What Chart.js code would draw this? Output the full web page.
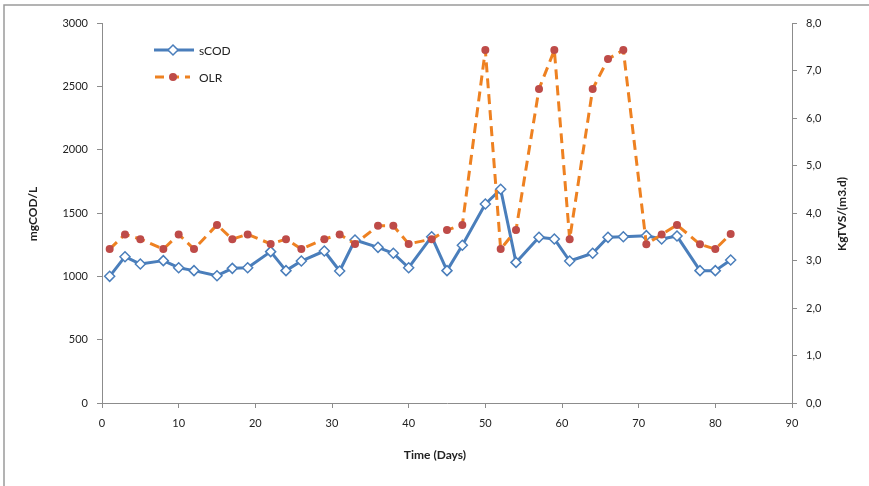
<!DOCTYPE html>
<html>
<head>
<meta charset="utf-8">
<script src="https://cdn.jsdelivr.net/npm/chart.js@4.4.0/dist/chart.umd.min.js"></script>
<style>
  html, body { margin: 0; padding: 0; background: #fff; }
  #wrap { width: 869px; height: 486px; }
</style>
</head>
<body>
<div id="wrap"><canvas id="codChart" width="869" height="486"></canvas></div>
<script>
// days of sampling
let days = [1, 3, 5, 8, 10, 12, 15, 17, 19, 22, 24, 26, 29, 31, 33, 36, 38, 40, 43, 45, 47, 50, 52, 54, 57, 59, 61, 64, 66, 68, 71, 73, 75, 78, 80, 82];
// sCOD, mgCOD/L (left axis)
let scod = [1000, 1155, 1097, 1124, 1068, 1045, 1005, 1063, 1068, 1195, 1045, 1121, 1200, 1042, 1287, 1229, 1182, 1068, 1313, 1045, 1245, 1571, 1687, 1110, 1308, 1295, 1121, 1182, 1308, 1313, 1321, 1295, 1318, 1045, 1045, 1129];
// OLR, KgTVS/(m3.d) (right axis)
let olr = [3.24, 3.55, 3.45, 3.24, 3.55, 3.24, 3.75, 3.45, 3.55, 3.35, 3.45, 3.24, 3.45, 3.55, 3.35, 3.73, 3.73, 3.35, 3.45, 3.64, 3.75, 7.43, 3.24, 3.64, 6.61, 7.43, 3.45, 6.61, 7.24, 7.43, 3.34, 3.55, 3.75, 3.34, 3.24, 3.56];

let xTicks = [0, 90, 10];
let leftTicks = [0, 3000, 500];
let rightTicks = [0, 8, 1];

const blue = '#4A7EBB';
const orange = '#EE8121';
const red = '#BE4B48';
const axisGray = '#8c8c8c';
const font = 'Lato';

const extras = {
    id: 'extras',
    afterDraw(chart) {
        const ctx = chart.ctx;
        ctx.save();
        // outer frame (top and left edges visible)
        ctx.strokeStyle = '#9a9a9a';
        ctx.lineWidth = 1.5;
        ctx.beginPath();
        ctx.moveTo(4, 486);
        ctx.lineTo(4, 5);
        ctx.lineTo(869, 5);
        ctx.stroke();

        // axis titles
        ctx.fillStyle = '#222';
        ctx.font = 'bold 12px ' + font;
        ctx.textAlign = 'center';
        ctx.textBaseline = 'middle';
        ctx.fillText('Time (Days)', 435, 455);

        ctx.save();
        ctx.translate(33, 214);
        ctx.rotate(-Math.PI / 2);
        ctx.fillText('mgCOD/L', 0, 0);
        ctx.restore();

        ctx.save();
        ctx.translate(842, 214);
        ctx.rotate(-Math.PI / 2);
        ctx.fillText('KgTVS/(m3.d)', 0, 0);
        ctx.restore();

        // legend
        ctx.font = '12px ' + font;
        ctx.textAlign = 'left';
        ctx.lineWidth = 3;
        ctx.strokeStyle = blue;
        ctx.beginPath();
        ctx.moveTo(154, 50);
        ctx.lineTo(194, 50);
        ctx.stroke();
        ctx.fillStyle = '#fff';
        ctx.lineWidth = 1.5;
        ctx.beginPath();
        ctx.moveTo(173, 45);
        ctx.lineTo(178, 50);
        ctx.lineTo(173, 55);
        ctx.lineTo(168, 50);
        ctx.closePath();
        ctx.fill();
        ctx.stroke();
        ctx.fillStyle = '#222';
        ctx.fillText('sCOD', 199, 51);

        ctx.strokeStyle = orange;
        ctx.lineWidth = 3;
        ctx.setLineDash([9, 6]);
        ctx.beginPath();
        ctx.moveTo(155, 77);
        ctx.lineTo(190, 77);
        ctx.stroke();
        ctx.setLineDash([]);
        ctx.fillStyle = red;
        ctx.beginPath();
        ctx.arc(173, 77, 4, 0, Math.PI * 2);
        ctx.fill();
        ctx.fillStyle = '#222';
        ctx.fillText('OLR', 199, 78);
        ctx.restore();
    }
};

let codChart = new Chart(document.querySelector('#codChart'), {
    type: 'line',
    data: {
        datasets: [{
            label: 'sCOD',
            data: days.map((d, i) => ({x: d, y: scod[i]})),
            yAxisID: 'y',
            borderColor: blue,
            borderWidth: 3,
            borderJoinStyle: 'round',
            pointStyle: 'rectRot',
            pointRadius: 5,
            pointBorderWidth: 1.5,
            pointBackgroundColor: '#fff',
            pointBorderColor: blue,
            order: 2
        }, {
            label: 'OLR',
            data: days.map((d, i) => ({x: d, y: olr[i]})),
            yAxisID: 'y1',
            borderColor: orange,
            borderWidth: 3,
            borderDash: [10, 6],
            borderJoinStyle: 'round',
            pointStyle: 'circle',
            pointRadius: 4,
            pointBorderWidth: 0,
            pointBackgroundColor: red,
            pointBorderColor: red,
            order: 1
        }]
    },
    options: {
        animation: false,
        responsive: false,
        devicePixelRatio: 1,
        layout: {padding: {top: 23, left: 0, right: 0, bottom: 0}},
        plugins: {
            legend: {display: false},
            tooltip: {enabled: false}
        },
        scales: {
            x: {
                type: 'linear',
                min: xTicks[0], max: xTicks[1],
                ticks: {stepSize: xTicks[2], color: '#222', padding: 9, font: {family: font, size: 11}},
                grid: {drawOnChartArea: false, drawTicks: true, tickLength: 5, color: axisGray},
                border: {color: axisGray, width: 1},
                afterFit: s => { s.height = 83; }
            },
            y: {
                position: 'left',
                min: leftTicks[0], max: leftTicks[1],
                ticks: {
                    stepSize: leftTicks[2], color: '#222', padding: 9, font: {family: font, size: 11},
                    callback: v => String(v)
                },
                grid: {drawOnChartArea: false, drawTicks: true, tickLength: 5, color: axisGray},
                border: {color: axisGray, width: 1},
                afterFit: s => { s.width = 102; }
            },
            y1: {
                position: 'right',
                min: rightTicks[0], max: rightTicks[1],
                ticks: {
                    stepSize: rightTicks[2], color: '#222', padding: 9, font: {family: font, size: 11},
                    callback: v => v.toFixed(1).replace('.', ',')
                },
                grid: {drawOnChartArea: false, drawTicks: true, tickLength: 5, color: axisGray},
                border: {color: axisGray, width: 1},
                afterFit: s => { s.width = 77; }
            }
        }
    },
    plugins: [extras]
});
</script>
</body>
</html>
